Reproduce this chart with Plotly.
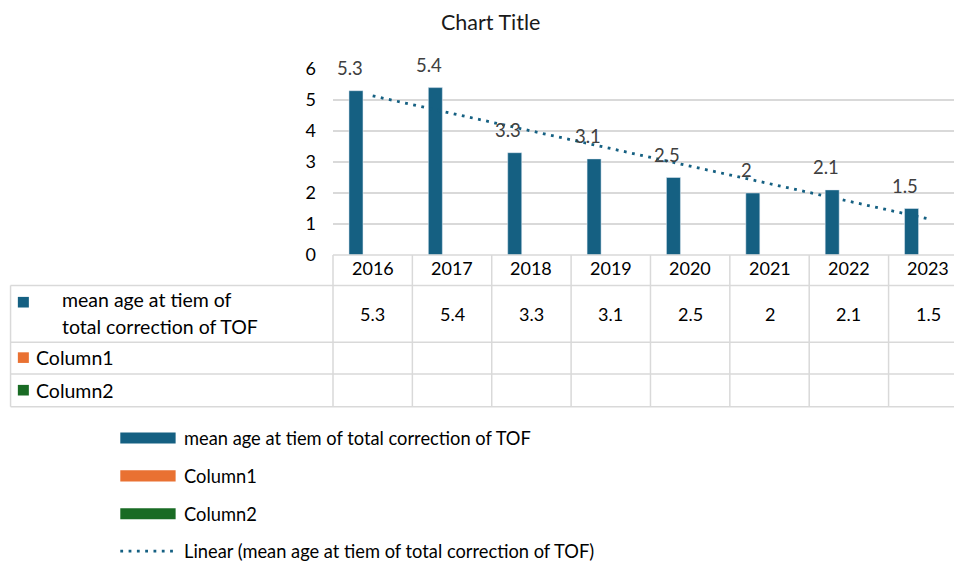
import numpy as np
import plotly.graph_objects as go

# ---- data ----
years = ["2016", "2017", "2018", "2019", "2020", "2021", "2022", "2023"]
mean_age = [5.3, 5.4, 3.3, 3.1, 2.5, 2, 2.1, 1.5]
column1 = [None] * 8
column2 = [None] * 8
series_names = ["mean age at tiem of total correction of TOF", "Column1", "Column2"]
trend_name = "Linear (mean age at tiem of total correction of TOF)"
y_ticks = [0, 1, 2, 3, 4, 5, 6]

# ---- style / geometry (page offset of 8px compensated) ----
BLUE, ORANGE, GREEN = "#156082", "#E97132", "#196B24"
GRID = "#d9d9d9"
FONT = "Lato"
OFF = 8
W, H = 962 - OFF, 561 - OFF
L_REF, T_REF, BOTTOM_REF = 333.3, 69.0, 254.6
CAT = 79.33
PW = 962 - L_REF
PH = BOTTOM_REF - T_REF
r0 = -0.5
r1 = r0 + PW / CAT


def X(px):
    return (px - L_REF) / PW


def Y(py):
    return (BOTTOM_REF - py) / PH


def CX(i):
    return (i - r0) / (r1 - r0)


# trendline (least squares fit of the series)
idx = np.arange(len(mean_age))
coef = np.polyfit(idx, np.array(mean_age, dtype=float), 1)
trend = np.polyval(coef, idx)

fig = go.Figure()
bw = 14 / CAT
fig.add_trace(go.Bar(x=years, y=mean_age, name=series_names[0], marker_color=BLUE,
                     width=bw, offset=-23.7 / CAT, showlegend=False))
fig.add_trace(go.Bar(x=years, y=column1, name=series_names[1], marker_color=ORANGE,
                     width=bw, offset=-7 / CAT, showlegend=False))
fig.add_trace(go.Bar(x=years, y=column2, name=series_names[2], marker_color=GREEN,
                     width=bw, offset=9.7 / CAT, showlegend=False))
fig.add_trace(go.Scatter(x=years, y=trend, mode="lines", name=trend_name,
                         line=dict(color=BLUE, width=2.8, dash="2.8px,5.5px"),
                         showlegend=False))

shapes = []
ann = []
line = dict(color=GRID, width=1.5)
# data table horizontal lines
shapes.append(dict(type="line", xref="paper", yref="paper", x0=X(L_REF), x1=X(975),
                   y0=Y(BOTTOM_REF), y1=Y(BOTTOM_REF), line=line))
for py in [285, 341.7, 373.3, 406]:
    shapes.append(dict(type="line", xref="paper", yref="paper", x0=X(11), x1=X(975),
                       y0=Y(py), y1=Y(py), line=line))
# vertical lines
shapes.append(dict(type="line", xref="paper", yref="paper", x0=X(11), x1=X(11),
                   y0=Y(285), y1=Y(406), line=line))
for k in range(len(years) + 1):
    xp = CX(k - 0.5)
    shapes.append(dict(type="line", xref="paper", yref="paper", x0=xp, x1=xp,
                       y0=Y(BOTTOM_REF), y1=Y(406), line=line))

# year labels & values in table, data labels
for i, (yr, v) in enumerate(zip(years, mean_age)):
    ann.append(dict(x=CX(i), xref="paper", y=Y(267.8), yref="paper", text=yr,
                    xanchor="center", yanchor="middle", showarrow=False,
                    font=dict(family=FONT, size=18, color="#000000")))
    ann.append(dict(x=CX(i), xref="paper", y=Y(313.3), yref="paper", text=f"{v:g}",
                    xanchor="center", yanchor="middle", showarrow=False,
                    font=dict(family=FONT, size=18, color="#000000")))
    ann.append(dict(x=CX(i), xref="paper", y=v, yref="y", text=f"{v:g}", showarrow=False,
                    xanchor="center", yanchor="middle", yshift=23, xshift=-23,
                    font=dict(family=FONT, size=18.5, color="#404040")))

# row headers
row_font = dict(family=FONT, size=19.5, color="#000000")
for txt, x, y in [("mean age at tiem of", 60, 299.5), ("total correction of TOF", 60, 326),
                  (series_names[1], 34, 356.5), (series_names[2], 34, 389.5)]:
    ann.append(dict(x=X(x), xref="paper", y=Y(y), yref="paper", text=txt,
                    xanchor="left", yanchor="middle", showarrow=False, font=row_font))
for col, cy in [(BLUE, 301.7), (ORANGE, 357), (GREEN, 389.5)]:
    shapes.append(dict(type="rect", xref="paper", yref="paper", x0=X(18.3), x1=X(29.3),
                       y0=Y(cy - 5.3), y1=Y(cy + 5.3), fillcolor=col, line=dict(width=0)))

# legend
leg_font = dict(family=FONT, size=18.3, color="#000000")
for name, col, cy in [(series_names[0], BLUE, 437.3), (series_names[1], ORANGE, 475),
                      (series_names[2], GREEN, 512.7)]:
    shapes.append(dict(type="rect", xref="paper", yref="paper", x0=X(120.7), x1=X(176),
                       y0=Y(cy - 5.5), y1=Y(cy + 5.5), fillcolor=col, line=dict(width=0)))
    ann.append(dict(x=X(182.7), xref="paper", y=Y(cy), yref="paper", text=name,
                    xanchor="left", yanchor="middle", showarrow=False, font=leg_font))
shapes.append(dict(type="line", xref="paper", yref="paper", x0=X(120.7), x1=X(178),
                   y0=Y(550), y1=Y(550), line=dict(color=BLUE, width=2.8, dash="2.8px,5.5px")))
ann.append(dict(x=X(182.7), xref="paper", y=Y(549.5), yref="paper", text=trend_name,
                xanchor="left", yanchor="middle", showarrow=False, font=leg_font))

# title
ann.append(dict(x=X(490.5), xref="paper", y=Y(22.2), yref="paper", text="Chart Title",
                xanchor="center", yanchor="middle", showarrow=False,
                font=dict(family=FONT, size=21.5, color="#1a1a1a")))

fig.update_layout(
    width=W, height=H, autosize=False,
    margin=dict(l=L_REF - OFF, r=0, t=T_REF - OFF, b=H - (BOTTOM_REF - OFF), pad=0),
    paper_bgcolor="white", plot_bgcolor="white",
    showlegend=False,
    shapes=shapes, annotations=ann,
    xaxis=dict(type="category", range=[r0, r1], showticklabels=False, showgrid=False,
               zeroline=False, showline=False, ticks=""),
    yaxis=dict(range=[0, 6], tickvals=y_ticks, showgrid=True, gridcolor=GRID, gridwidth=1.5,
               zeroline=False, showline=False, ticks="", ticklabelstandoff=16,
               tickfont=dict(family=FONT, size=18, color="#000000")),
)
fig.write_html("out.html")
